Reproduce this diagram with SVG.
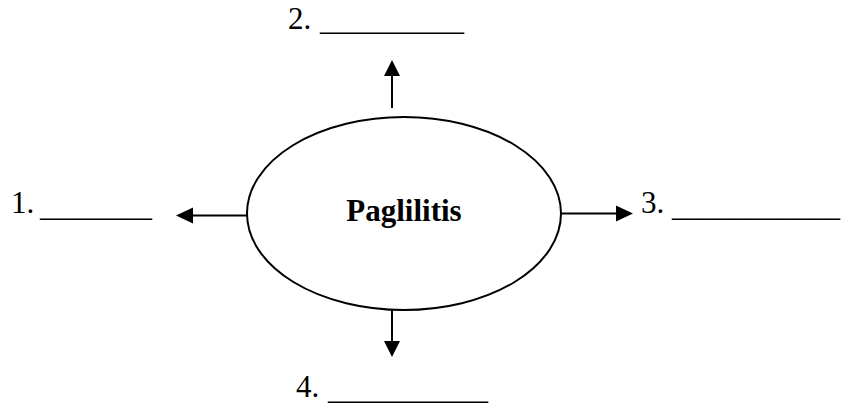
<svg xmlns="http://www.w3.org/2000/svg" width="841" height="406" viewBox="0 0 841 406">
<style>
.lbl{font-family:"Liberation Serif","Times New Roman",serif;font-size:31px;fill:#000}
.ttl{font-family:"Liberation Serif","Times New Roman",serif;font-size:31px;font-weight:bold;fill:#000}
.ln{stroke:#000;stroke-width:2;fill:none}
.ah{fill:#000;stroke:none}
</style>
<rect width="841" height="406" fill="#fff"/>
<g id="center">
<ellipse cx="404" cy="213.5" rx="157" ry="96.5" fill="#fff" stroke="#000" stroke-width="2"/>
<text class="ttl" x="404" y="220.5" text-anchor="middle">Paglilitis</text>
</g>
<g id="connectors">
<line class="ln" x1="392" y1="108" x2="392" y2="74"/>
<polygon class="ah" points="392,60 384,76 400,76"/>
<line class="ln" x1="247" y1="215.5" x2="192" y2="215.5"/>
<polygon class="ah" points="176,215.5 193,207.5 193,223.5"/>
<line class="ln" x1="561" y1="213.5" x2="618" y2="213.5"/>
<polygon class="ah" points="633,213.5 616,205.5 616,221.5"/>
<line class="ln" x1="392" y1="310" x2="392" y2="344"/>
<polygon class="ah" points="392,357 384,341 400,341"/>
</g>
<g id="node1">
<text class="lbl" x="11" y="212.7">1.</text>
<text class="lbl" x="40" y="215.6" textLength="112" lengthAdjust="spacingAndGlyphs">_________</text>
</g>
<g id="node2">
<text class="lbl" x="288" y="28.5">2.</text>
<text class="lbl" x="320" y="30.4" textLength="144" lengthAdjust="spacingAndGlyphs">_________</text>
</g>
<g id="node3">
<text class="lbl" x="641" y="212.7">3.</text>
<text class="lbl" x="672" y="215.6" textLength="168" lengthAdjust="spacingAndGlyphs">___________</text>
</g>
<g id="node4">
<text class="lbl" x="296" y="396.7">4.</text>
<text class="lbl" x="328" y="399.3" textLength="160" lengthAdjust="spacingAndGlyphs">__________</text>
</g>
</svg>
